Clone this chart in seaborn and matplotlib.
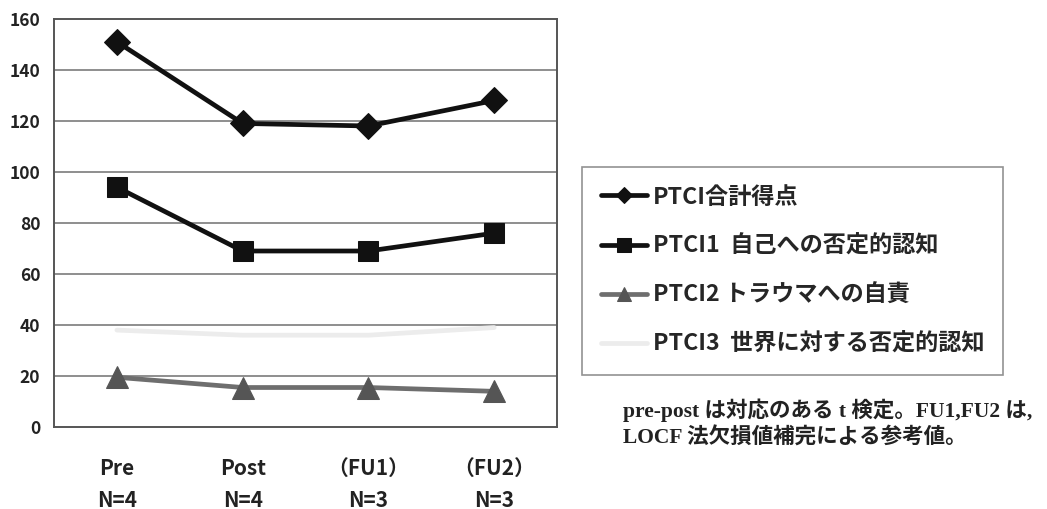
import numpy as np
import pandas as pd
import matplotlib
matplotlib.use("Agg")
import matplotlib.pyplot as plt
import seaborn as sns
from matplotlib.ticker import FixedLocator

sns.set_style("white")
plt.rcParams["font.family"] = ["Noto Sans CJK JP", "DejaVu Sans"]

# data
categories = ["Pre\nN=4", "Post\nN=4", "（FU1）\nN=3", "（FU2）\nN=3"]
series_names = [
    "PTCI合計得点",
    "PTCI1  自己への否定的認知",
    "PTCI2 トラウマへの自責",
    "PTCI3  世界に対する否定的認知",
]
total_score = [151, 119, 118, 128]
ptci1_values = [94, 69, 69, 76]
ptci2_values = [19.5, 15.5, 15.5, 14]
ptci3_values = [38, 36, 36, 39]
y_ticks = [0, 20, 40, 60, 80, 100, 120, 140, 160]

all_values = [total_score, ptci1_values, ptci2_values, ptci3_values]

styles = [
    dict(color="#111111", marker="D", markersize=13, mfc="#111111", mec="#111111"),
    dict(color="#111111", marker="s", markersize=15, mfc="#111111", mec="#111111"),
    dict(color="#6e6e6e", marker="^", markersize=16, mfc="#555555", mec="#555555"),
    dict(color="#ececec", marker=None, markersize=0, mfc="#ececec", mec="#ececec"),
]

df = pd.concat(
    [
        pd.DataFrame({"pos": np.arange(len(categories)), "value": vals, "series": name})
        for name, vals in zip(series_names, all_values)
    ],
    ignore_index=True,
)

fig = plt.figure(figsize=(10.47, 5.09), dpi=100)
ax = fig.add_axes([0.0516, 0.161, 0.4805, 0.802])

for name, st in zip(series_names, styles):
    sub = df[df["series"] == name]
    sns.lineplot(
        data=sub,
        x="pos",
        y="value",
        ax=ax,
        color=st["color"],
        linewidth=3.4,
        marker=st["marker"],
        markersize=st["markersize"],
        markerfacecolor=st["mfc"],
        markeredgecolor=st["mec"],
        label=name,
        legend=False,
    )

ax.set_xlim(-0.5, len(categories) - 0.5)
ax.set_ylim(0, 160)
ax.set_yticks(y_ticks)
ax.set_yticklabels([str(t) for t in y_ticks], fontsize=12.5, color="#222222",
                   fontweight="bold")
ax.set_xticks(np.arange(len(categories)))
ax.set_xticklabels(categories, fontsize=15, color="#222222", linespacing=1.65,
                   fontweight="bold")
ax.tick_params(axis="x", which="major", length=0, pad=22)
ax.tick_params(axis="y", length=0, pad=10)
ax.xaxis.set_minor_locator(FixedLocator([0.5, 1.5, 2.5]))
ax.tick_params(axis="x", which="minor", direction="in", length=9, width=1.2, color="#444444")
ax.set_xlabel("")
ax.set_ylabel("")

for t in y_ticks[1:-1]:
    ax.axhline(t, color="#707070", linewidth=1.1, zorder=0)

for sp in ax.spines.values():
    sp.set_visible(True)
    sp.set_color("#555555")
    sp.set_linewidth(1.4)

handles, labels = ax.get_legend_handles_labels()
leg = fig.legend(
    handles,
    labels,
    loc="upper left",
    bbox_to_anchor=(0.556, 0.672),
    frameon=True,
    fancybox=False,
    edgecolor="#777777",
    prop={"size": 16.7, "weight": "bold"},
    labelspacing=1.13,
    handlelength=2.0,
    handletextpad=0.25,
    borderpad=0.8,
    borderaxespad=0.0,
    markerscale=0.65,
)
leg.get_frame().set_linewidth(1.2)

note_family = ["Liberation Serif", "Noto Sans CJK JP"]
fig.text(0.595, 0.195, "pre-post は対応のある t 検定。FU1,FU2 は,",
         fontsize=15.5, family=note_family, color="#222222", va="center",
         fontweight="bold")
fig.text(0.595, 0.14, "LOCF 法欠損値補完による参考値。",
         fontsize=15.5, family=note_family, color="#222222", va="center",
         fontweight="bold")

fig.savefig("out.png", dpi=100)
